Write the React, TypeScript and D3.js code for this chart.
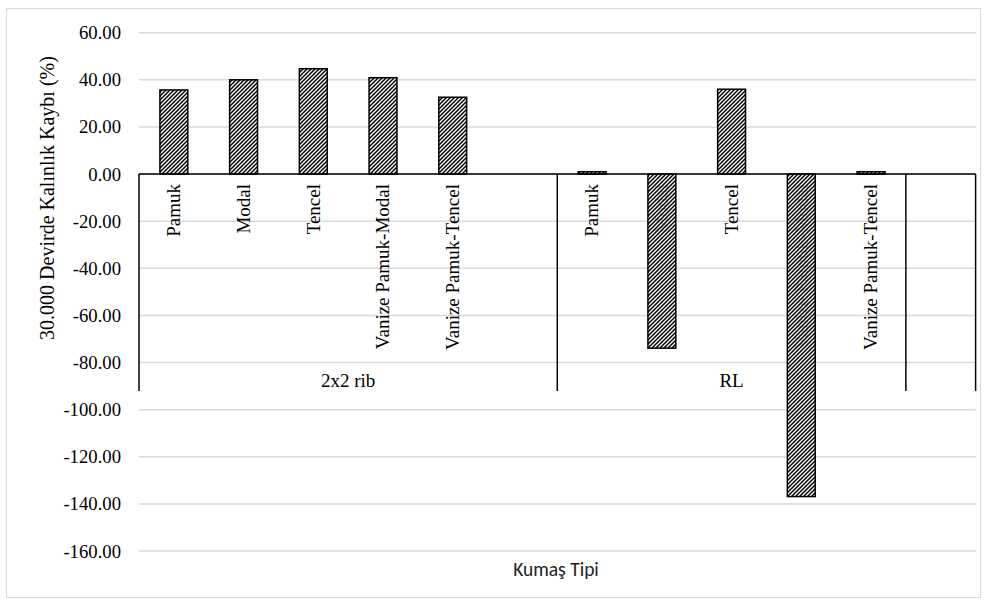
import React from "react";
import * as d3 from "d3";

const groups = ["2x2 rib", "RL", ""];
const groupSizes = [6, 5, 1];
const categories = [
  "Pamuk", "Modal", "Tencel", "Vanize Pamuk-Modal", "Vanize Pamuk-Tencel", "",
  "Pamuk", "Modal", "Tencel", "Vanize Pamuk-Modal", "Vanize Pamuk-Tencel",
  "",
];
const values: (number | null)[] = [
  35.7, 40.0, 44.7, 40.9, 32.6, null,
  1.0, -73.9, 36.0, -136.9, 1.0,
  null,
];
const yTicks = [60, 40, 20, 0, -20, -40, -60, -80, -100, -120, -140, -160];
const yTitle = "30.000 Devirde Kalınlık Kaybı (%)";
const xTitle = "Kumaş Tipi";

const W = 987;
const H = 600;
const left = 139;
const right = 975.6;
const top = 32.7;
const bottom = 551;
const groupBottom = 391;

export default function App() {
  const keys = categories.map((_, i) => String(i));
  const x = d3.scaleBand<string>().domain(keys).range([left, right]).paddingInner(0.6).paddingOuter(0.3);
  const y = d3.scaleLinear().domain([-160, 60]).range([bottom, top]);
  const fmt = (v: number) => d3.format(".2f")(v).replace("\u2212", "-");
  const step = x.step();
  const serif = "Liberation Serif";

  const bounds: number[] = [0];
  groupSizes.forEach((s) => bounds.push(bounds[bounds.length - 1] + s));
  const bx = (i: number) => left + i * step;

  return (
    <svg width={W} height={H} style={{ position: "absolute", left: 0, top: 0 }} xmlns="http://www.w3.org/2000/svg">
      <defs>
        <pattern id="hatch" patternUnits="userSpaceOnUse" width={4} height={4}>
          <rect x={0} y={0} width={4} height={4} fill="#fff" fillOpacity={0.75} />
          <path d="M-1,1 l2,-2 M0,4 l4,-4 M3,5 l2,-2" stroke="#000" strokeWidth={1.5} />
        </pattern>
      </defs>
      <rect x={0} y={0} width={W} height={H} fill="#fff" />
      <rect x={6.5} y={8.5} width={974} height={589} fill="#fff" stroke="#d9d9d9" strokeWidth={1} />

      {yTicks.map((t) => (
        <line key={"g" + t} x1={left} x2={right} y1={y(t)} y2={y(t)} stroke="#d9d9d9" strokeWidth={1.5} />
      ))}
      {yTicks.map((t) => (
        <text key={"t" + t} x={121} y={y(t)} dy="0.35em" textAnchor="end" fontFamily={serif} fontSize={18.7} fill="#000">
          {fmt(t)}
        </text>
      ))}

      <text transform={`translate(47,198) rotate(-90)`} dy="0.35em" textAnchor="middle" fontFamily={serif} fontSize={20} fill="#000">
        {yTitle}
      </text>

      {categories.map((c, i) => (
        <text
          key={"c" + i}
          transform={`translate(${(x(String(i)) as number) + x.bandwidth() / 2},184) rotate(-90)`}
          dy="0.33em"
          textAnchor="end"
          fontFamily={serif}
          fontSize={19}
          fill="#000"
        >
          {c}
        </text>
      ))}

      {groups.map((g, gi) => (
        <text key={"gl" + gi} x={(bx(bounds[gi]) + bx(bounds[gi + 1])) / 2} y={387} textAnchor="middle" fontFamily={serif} fontSize={19} fill="#000">
          {g}
        </text>
      ))}

      {values.map((v, i) =>
        v === null ? null : (
          <rect
            key={"b" + i}
            x={x(String(i))}
            width={x.bandwidth()}
            y={y(Math.max(0, v))}
            height={Math.abs(y(v) - y(0))}
            fill="url(#hatch)"
            stroke="#000"
            strokeWidth={1.5}
          />
        )
      )}

      <line x1={left} x2={right} y1={y(0)} y2={y(0)} stroke="#000" strokeWidth={1.5} />
      {bounds.map((b, i) => (
        <line key={"s" + i} x1={bx(b)} x2={bx(b)} y1={y(0)} y2={groupBottom} stroke="#000" strokeWidth={1.5} />
      ))}

      <text x={556} y={576} textAnchor="middle" fontFamily="Carlito" fontSize={19.5} fill="#222">
        {xTitle}
      </text>
    </svg>
  );
}
